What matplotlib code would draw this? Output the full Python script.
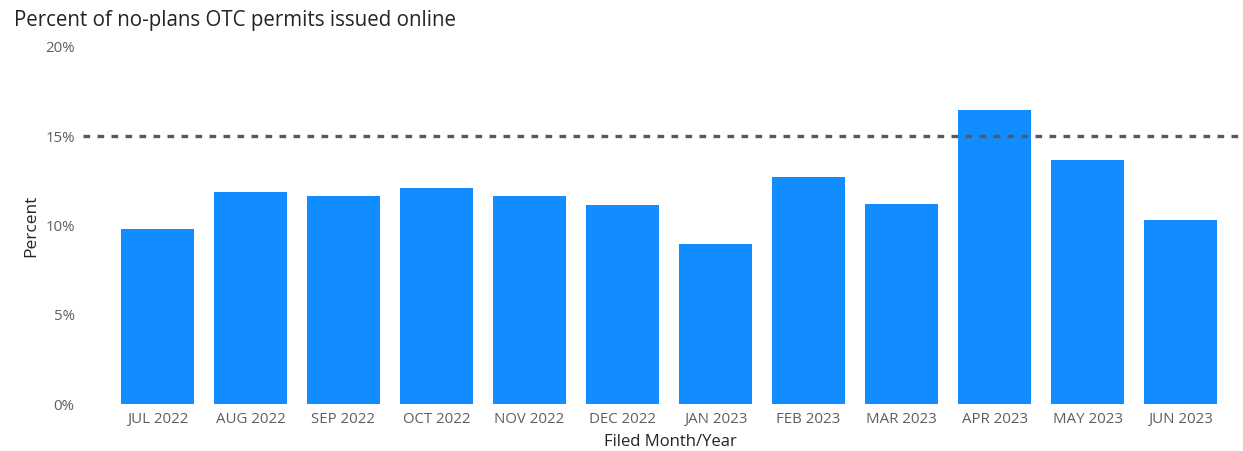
import matplotlib
matplotlib.use("Agg")
import matplotlib.pyplot as plt
from matplotlib.ticker import FuncFormatter

months = ["JUL 2022", "AUG 2022", "SEP 2022", "OCT 2022", "NOV 2022", "DEC 2022",
          "JAN 2023", "FEB 2023", "MAR 2023", "APR 2023", "MAY 2023", "JUN 2023"]
percent = [9.80, 11.88, 11.65, 12.10, 11.65, 11.15, 8.96, 12.72, 11.20, 16.47, 13.67, 10.31]
target = 15.0
yticks = [0, 5, 10, 15, 20]

plt.rcParams['font.family'] = ['Open Sans', 'DejaVu Sans']

fig = plt.figure(figsize=(12.43, 4.51), dpi=100)
ax = fig.add_axes([0.0668, 0.1042, 0.9332, 0.7916])

x = list(range(len(months)))
ax.bar(x, percent, width=0.785, color="#118DFF", zorder=2)
ax.axhline(target, color="#5A5A5A", linewidth=2.4, linestyle=(0, (2.0, 2.2)), zorder=3)

ax.set_ylim(0, 20)
ax.set_xlim(-0.8, 11.67)
ax.set_yticks(yticks)
ax.yaxis.set_major_formatter(FuncFormatter(lambda v, p: f"{int(v)}%"))
ax.set_xticks(x)
ax.set_xticklabels(months)
ax.tick_params(axis="both", length=0, labelsize=10.8, colors="#605E5C", pad=6)
for s in ax.spines.values():
    s.set_visible(False)

ax.set_xlabel("Filed Month/Year", fontsize=12, color="#252423", labelpad=3)
ax.xaxis.set_label_coords(0.506, -0.083)
ax.set_ylabel("Percent", fontsize=12.5, color="#252423", labelpad=4)

fig.text(0.011, 0.955, "Percent of no-plans OTC permits issued online", fontsize=14.8,
         color="#252423", ha="left", va="center")

fig.savefig("out.png", dpi=100)
